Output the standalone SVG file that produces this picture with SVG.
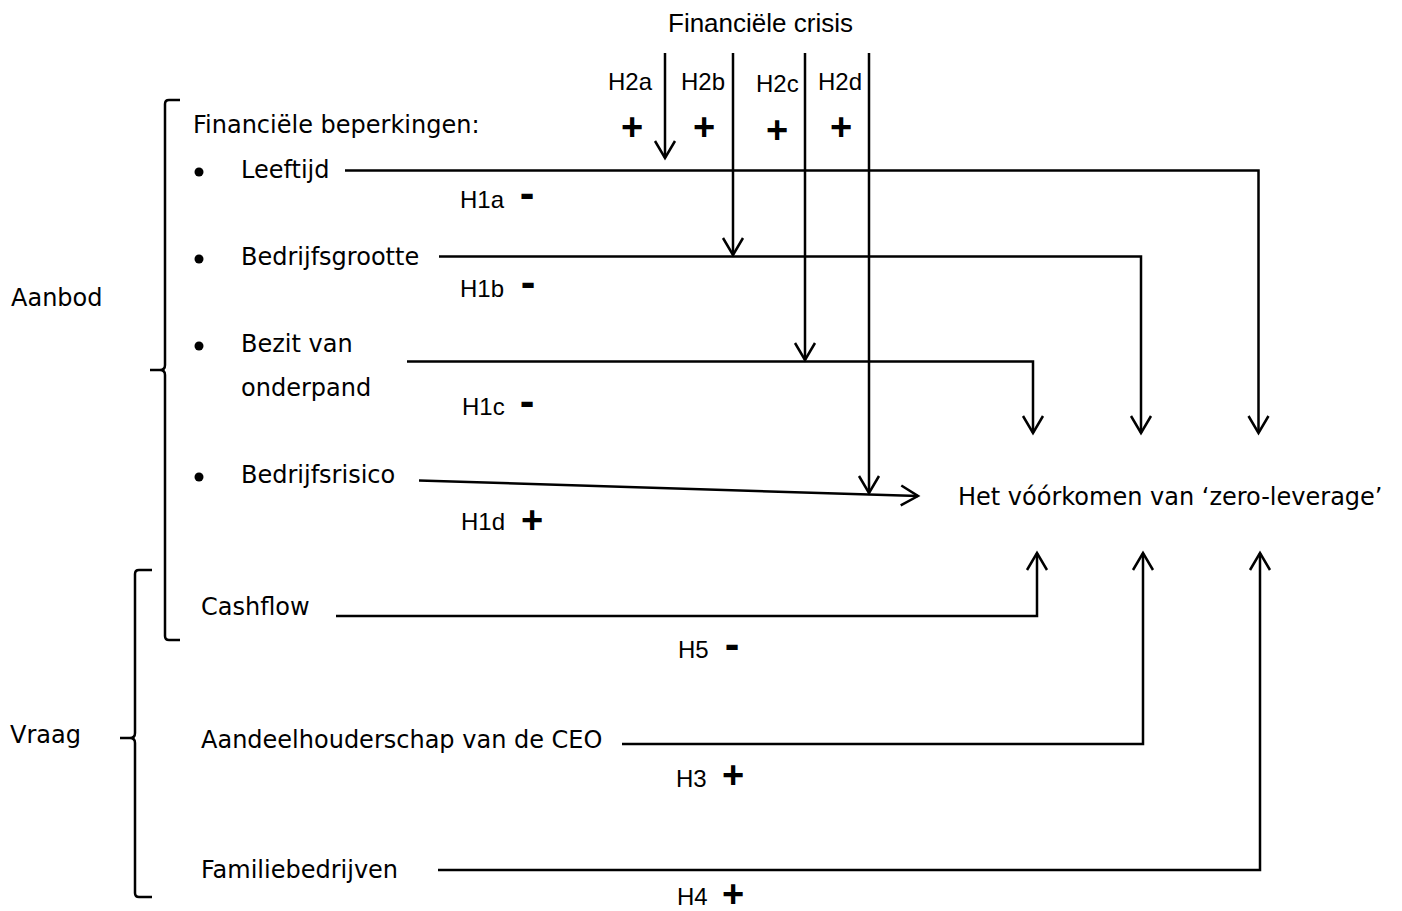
<svg xmlns="http://www.w3.org/2000/svg" width="1402" height="911" viewBox="0 0 1402 911">
<defs>
<style>
.v{font-family:"DejaVu Sans",Verdana,sans-serif;font-size:24px;fill:#000}
.c{font-family:"Liberation Sans",Arial,sans-serif;font-size:24px;fill:#000}
.cr{font-family:"Liberation Sans",Arial,sans-serif;font-size:26px;fill:#000}
.pl{font-family:"Liberation Sans",Arial,sans-serif;font-size:38px;font-weight:bold;fill:#000;text-anchor:middle}
.mi{font-family:"Liberation Sans",Arial,sans-serif;font-size:44px;font-weight:bold;fill:#000;text-anchor:middle}
.ln{fill:none;stroke:#000;stroke-width:2.5}
.br{fill:none;stroke:#000;stroke-width:2.5}
</style>
<marker id="ah" markerUnits="userSpaceOnUse" markerWidth="24" markerHeight="24" viewBox="-20 -12 22 24" refX="0" refY="0" orient="auto">
<path d="M-17,-10 L0,0 L-17,10" fill="none" stroke="#000" stroke-width="2.5"/>
</marker>
</defs>
<rect width="1402" height="911" fill="#fff"/>

<g id="crisis"><text class="cr" x="668" y="32">Financiële crisis</text></g>
<g id="braces">
<path class="br" d="M180,100 H169 Q165,100 165,104 V365 Q165,370 160,370 H150 M160,370 Q165,370 165,375 V636 Q165,640 169,640 H180"/>
<path class="br" d="M152,570 H139 Q135,570 135,574 V733 Q135,738 130,738 H120 M130,738 Q135,738 135,743 V893 Q135,897 139,897 H152"/>
</g>
<g id="aanbod"><text class="v" x="11" y="306">Aanbod</text></g>
<g id="vraag"><text class="v" x="10" y="743">Vraag</text></g>
<g id="beperkingen"><text class="v" x="193" y="133">Financiële beperkingen:</text></g>
<g id="leeftijd"><circle cx="199" cy="172" r="4.5"/><text class="v" x="241" y="178">Leeftijd</text></g>
<g id="bedrijfsgrootte"><circle cx="199" cy="259" r="4.5"/><text class="v" x="241" y="265">Bedrijfsgrootte</text></g>
<g id="onderpand"><circle cx="199" cy="346" r="4.5"/><text class="v" x="241" y="352">Bezit van</text><text class="v" x="241" y="396">onderpand</text></g>
<g id="bedrijfsrisico"><circle cx="199" cy="477" r="4.5"/><text class="v" x="241" y="483">Bedrijfsrisico</text></g>
<g id="cashflow"><text class="v" x="201" y="615">Cashflow</text></g>
<g id="ceo"><text class="v" x="201" y="748">Aandeelhouderschap van de CEO</text></g>
<g id="familie"><text class="v" x="201" y="878">Familiebedrijven</text></g>
<g id="target"><text class="v" x="958" y="505">Het vóórkomen van ‘zero-leverage’</text></g>

<g id="connectors">
<path class="ln" d="M345,170.5 H1258.5 V433" marker-end="url(#ah)"/>
<path class="ln" d="M439,256.5 H1141 V433" marker-end="url(#ah)"/>
<path class="ln" d="M407,361.5 H1033 V433" marker-end="url(#ah)"/>
<path class="ln" d="M419,480.5 L918,496" marker-end="url(#ah)"/>
<path class="ln" d="M665,53 V158" marker-end="url(#ah)"/>
<path class="ln" d="M733,53 V255" marker-end="url(#ah)"/>
<path class="ln" d="M805,53 V360" marker-end="url(#ah)"/>
<path class="ln" d="M869,53 V493" marker-end="url(#ah)"/>
<path class="ln" d="M336,616 H1037 V553" marker-end="url(#ah)"/>
<path class="ln" d="M622,744 H1143 V553" marker-end="url(#ah)"/>
<path class="ln" d="M438,870 H1260 V553" marker-end="url(#ah)"/>
</g>

<g id="labels">
<text class="c" x="608" y="90">H2a</text>
<text class="c" x="681" y="90">H2b</text>
<text class="c" x="756" y="92">H2c</text>
<text class="c" x="818" y="90">H2d</text>
<text class="pl" x="632" y="140">+</text>
<text class="pl" x="704" y="140">+</text>
<text class="pl" x="777" y="143">+</text>
<text class="pl" x="841" y="140">+</text>
<text class="c" x="460" y="208">H1a</text><text class="mi" x="527" y="208">-</text>
<text class="c" x="460" y="297">H1b</text><text class="mi" x="528" y="297">-</text>
<text class="c" x="462" y="415">H1c</text><text class="mi" x="527" y="416">-</text>
<text class="c" x="461" y="530">H1d</text><text class="pl" x="532" y="533">+</text>
<text class="c" x="678" y="658">H5</text><text class="mi" x="732" y="659">-</text>
<text class="c" x="676" y="787">H3</text><text class="pl" x="733" y="788">+</text>
<text class="c" x="677" y="905">H4</text><text class="pl" x="733" y="907">+</text>
</g>
</svg>
